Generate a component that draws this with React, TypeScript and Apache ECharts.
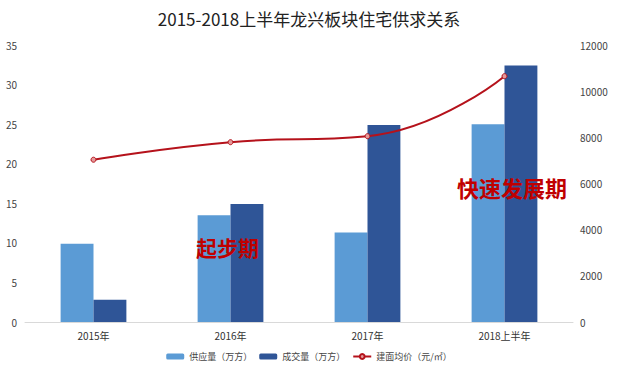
import React, { useEffect, useRef } from "react";
import * as echarts from "echarts";

const categories = ["2015年", "2016年", "2017年", "2018上半年"];
const supply = [9.9, 13.5, 11.3, 25.0];
const deal = [2.8, 14.9, 24.9, 32.4];
const price = [7030, 7790, 8050, 10650];
const leftTicks = { min: 0, max: 35, interval: 5 };
const rightTicks = { min: 0, max: 12000, interval: 2000 };

export default function App() {
  const ref = useRef<HTMLDivElement>(null);
  useEffect(() => {
    document.body.style.margin = "0";
    if (!ref.current) return;
    const chart = echarts.init(ref.current, undefined, { renderer: "svg" });
    const font = "'Microsoft YaHei', 'Noto Sans CJK SC', sans-serif";
    chart.setOption({
      animation: false,
      textStyle: { fontFamily: font },
      title: {
        text: "2015-2018上半年龙兴板块住宅供求关系",
        left: "center",
        top: 5,
        textStyle: { fontSize: 17, fontWeight: "normal", color: "#222", fontFamily: font },
      },
      legend: {
        top: 347,
        left: "center",
        itemWidth: 18,
        itemHeight: 6,
        itemGap: 7,
        textStyle: { fontSize: 9, color: "#444" },
        data: ["供应量（万方）", "成交量（万方）", "建面均价（元/㎡）"],
      },
      grid: { left: 25, right: 45, top: 45, bottom: 45 },
      xAxis: {
        type: "category",
        data: categories,
        axisLine: { lineStyle: { color: "#d9d9d9" } },
        axisTick: { show: false },
        axisLabel: { fontSize: 10, color: "#333" },
      },
      yAxis: [
        {
          type: "value",
          ...leftTicks,
          splitLine: { show: false },
          axisLine: { show: false },
          axisTick: { show: false },
          axisLabel: { fontSize: 10, color: "#444" },
        },
        {
          type: "value",
          ...rightTicks,
          splitLine: { show: false },
          axisLine: { show: false },
          axisTick: { show: false },
          axisLabel: { fontSize: 10, color: "#444", margin: 7, formatter: (v: number) => String(v) },
        },
      ],
      series: [
        {
          name: "供应量（万方）",
          type: "bar",
          data: supply,
          barGap: "0%",
          barCategoryGap: "52%",
          itemStyle: { color: "#5b9bd5" },
        },
        {
          name: "成交量（万方）",
          type: "bar",
          data: deal,
          itemStyle: { color: "#2f5597" },
        },
        {
          name: "建面均价（元/㎡）",
          type: "line",
          yAxisIndex: 1,
          data: price,
          smooth: true,
          symbol: "circle",
          symbolSize: 5,
          lineStyle: { color: "#b5121b", width: 2 },
          itemStyle: { color: "#e49a9a", borderColor: "#b5121b", borderWidth: 1 },
        },
      ],
      graphic: [
        {
          type: "text",
          left: 196,
          top: 236,
          z: 100,
          style: {
            text: "起步期",
            fontSize: 21,
            fontWeight: "bold",
            fill: "#c00000",
            fontFamily: font,
          },
        },
        {
          type: "text",
          left: 457,
          top: 176,
          z: 100,
          style: {
            text: "快速发展期",
            fontSize: 22,
            fontWeight: "bold",
            fill: "#c00000",
            fontFamily: font,
          },
        },
      ],
    });
    return () => chart.dispose();
  }, []);
  return <div ref={ref} style={{ width: 618, height: 367 }} />;
}
